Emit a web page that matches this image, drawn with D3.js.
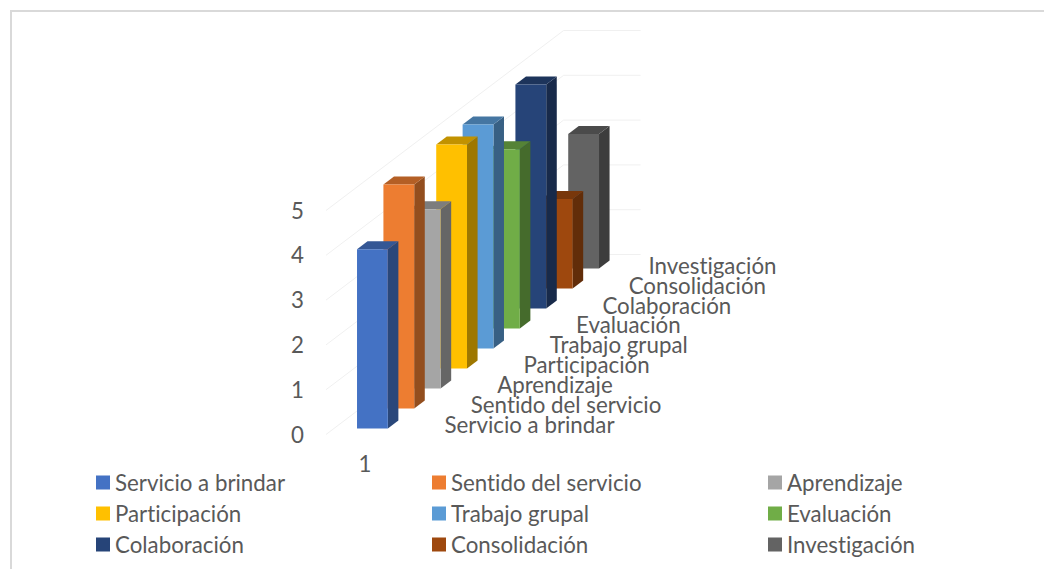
<!DOCTYPE html>
<html>
<head>
  <title>Bar chart</title>
  <script src="https://d3js.org/d3.v7.min.js"></script>
  <style>
    html, body { margin: 0; padding: 0; background: #fff; }
    svg { display: block; }
    text { font-family: Lato, "Open Sans", sans-serif; fill: #595959; font-variant-ligatures: none; }
  </style>
</head>
<body>
<div id="chart"></div>
<script>
  const categories = ["1"];
  const series = ["Servicio a brindar", "Sentido del servicio", "Aprendizaje", "Participación",
    "Trabajo grupal", "Evaluación", "Colaboración", "Consolidación", "Investigación"];
  const values = [4, 5, 4, 5, 5, 4, 5, 2, 3];
  const colors = ["#4472C4", "#ED7D31", "#A5A5A5", "#FFC000", "#5B9BD5", "#70AD47", "#264478", "#9E480E", "#636363"];
  const yTicks = [0, 1, 2, 3, 4, 5];

  const width = 1044;
  const height = 569;
  const fontSize = 22.3;
  const svg = d3.select("#chart")
          .append("svg")
          .attr("width", width)
          .attr("height", height);

  // chart frame, only top and left edges are in the picture
  svg.append("path")
          .attr("d", "M11,569V11H1044")
          .attr("fill", "none")
          .attr("stroke", "#d9d9d9")
          .attr("stroke-width", 2);

  // front wall scales
  const x = d3.scaleBand()
          .domain(categories)
          .range([326, 403])
          .paddingInner(0.6)
          .paddingOuter(0.3);
  const y = d3.scaleLinear()
          .domain([0, 5])
          .range([434.5, 210.5]);

  // depth runs up and to the right, one band per series
  const depth = d3.scaleBand()
          .domain(series)
          .range([0, 1])
          .paddingInner(0.6)
          .paddingOuter(0.3);
  const depthX = d3.scaleLinear().domain([0, 1]).range([0, 237.6]);
  const depthY = d3.scaleLinear().domain([0, 1]).range([0, -180]);

  const project = (px, value, d) => [px + depthX(d), y(value) + depthY(d)];
  const path = pts => "M" + pts.map(p => p.join(",")).join("L") + "Z";

  // gridlines on side and back walls
  svg.append("g").selectAll("polyline")
          .data(yTicks)
          .join("polyline")
          .attr("points", d => [
            project(326, d, 0),
            project(326, d, 1),
            project(403, d, 1)
          ].map(p => p.join(",")).join(" "))
          .attr("fill", "none")
          .attr("stroke", "#f0f0f0")
          .attr("stroke-width", 1);

  const shade = (c, k) => d3.interpolateRgb("#000", c)(k);

  // back bars first so nearer ones cover them
  const bars = svg.append("g").selectAll("g")
          .data(series.map((s, i) => ({ s, v: values[i], c: colors[i] })).reverse())
          .join("g");

  const x0 = x("1");
  const x1 = x0 + x.bandwidth();
  const front = d => depth(d.s);
  const back = d => depth(d.s) + depth.bandwidth();

  bars.append("path")
          .attr("fill", d => shade(d.c, 0.62))
          .attr("d", d => path([project(x1, 0, front(d)), project(x1, 0, back(d)),
            project(x1, d.v, back(d)), project(x1, d.v, front(d))]));
  bars.append("path")
          .attr("fill", d => shade(d.c, 0.76))
          .attr("d", d => path([project(x0, d.v, front(d)), project(x1, d.v, front(d)),
            project(x1, d.v, back(d)), project(x0, d.v, back(d))]));
  bars.append("path")
          .attr("fill", d => d.c)
          .attr("d", d => path([project(x0, 0, front(d)), project(x1, 0, front(d)),
            project(x1, d.v, front(d)), project(x0, d.v, front(d))]));

  // axes
  const yAxis = svg.append("g")
          .attr("transform", "translate(304,0.5)")
          .call(d3.axisLeft(y).tickValues(yTicks).tickFormat(d3.format("d")).tickSize(0).tickPadding(0));
  yAxis.select(".domain").remove();
  yAxis.selectAll("text").attr("font-size", fontSize);
  yAxis.attr("font-family", null);

  const xAxis = svg.append("g")
          .attr("transform", "translate(0.5,456.5)")
          .call(d3.axisBottom(d3.scaleBand().domain(categories).range([326, 403])).tickSize(0).tickPadding(0));
  xAxis.select(".domain").remove();
  xAxis.selectAll("text").attr("font-size", fontSize);
  xAxis.attr("font-family", null);

  // series names along the depth axis, the last one stops at the plot edge
  const labelX = d3.scalePoint().domain(series).range([444.5, 655]);
  const labelY = d3.scalePoint().domain(series).range([425, 266]);
  svg.append("g").selectAll("text")
          .data(series)
          .join("text")
          .attr("x", d => Math.min(labelX(d), 648.5))
          .attr("y", d => labelY(d))
          .attr("dy", "0.35em")
          .attr("font-size", fontSize)
          .text(d => d);

  // legend
  const legendX = d3.scaleBand().domain([0, 1, 2]).range([96, 1104]);
  const legendY = d3.scaleBand().domain([0, 1, 2]).range([467, 560]);
  const legend = svg.append("g").selectAll("g")
          .data(series)
          .join("g")
          .attr("transform", (d, i) => `translate(${legendX(i % 3)},${legendY(Math.floor(i / 3)) + 15.5})`);
  legend.append("rect")
          .attr("y", -7)
          .attr("width", 14)
          .attr("height", 14)
          .attr("fill", (d, i) => colors[i]);
  legend.append("text")
          .attr("x", 19)
          .attr("y", 0.8)
          .attr("dy", "0.35em")
          .attr("font-size", fontSize)
          .text(d => d);
</script>
</body>
</html>
